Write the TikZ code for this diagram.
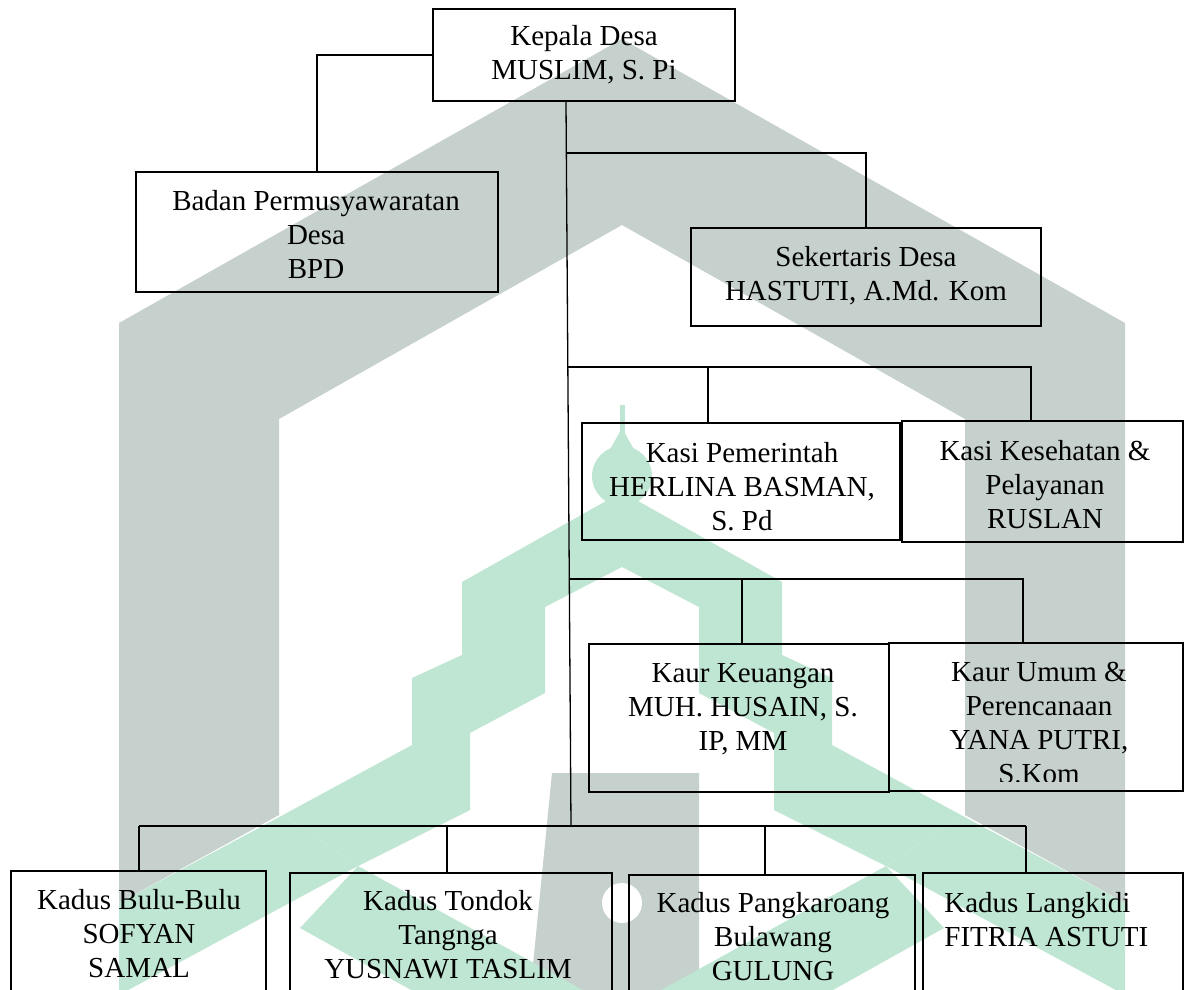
\documentclass[tikz,border=0pt]{standalone}
\usepackage{fontspec}
\setmainfont{Liberation Serif}
\definecolor{wmgrey}{HTML}{C6D0CC}
\definecolor{wmgreen}{HTML}{BFE6D2}
\begin{document}
\begin{tikzpicture}[x=0.5pt, y=-0.5pt,
  box/.style={draw=black, line width=0.9pt, rectangle, inner sep=0pt},
  lbl/.style={align=center, inner sep=0pt, font=\fontsize{14.5}{17}\selectfont},
  conn/.style={draw=black, line width=0.65pt}]
\useasboundingbox (0,0) rectangle (1184,990);
\clip (0,0) rectangle (1184,990);
% ---------- watermark ----------
\fill[wmgrey] (119,903) -- (119,323) -- (622,39) -- (1125,323) -- (1125,903)
  -- (965,815) -- (965,419) -- (622,225) -- (279,419) -- (279,815) -- cycle;
\fill[wmgrey] (552,773) -- (699,773) -- (699,995) -- (530,995) -- cycle;
\fill[white] (622,903) circle (20);
\fill[wmgreen] (622,492) -- (462,582) -- (462,655) -- (412,678) -- (412,745)
  -- (283,815) -- (358,866) -- (470,810) -- (470,733) -- (545,693) -- (545,607)
  -- (622,567) -- (699,607) -- (699,693) -- (774,733) -- (774,810) -- (886,866)
  -- (961,815) -- (832,745) -- (832,678) -- (782,655) -- (782,582) -- cycle;
\fill[wmgreen] (622,476) ellipse (30 and 30);
\fill[wmgreen] (622,428) -- (641,462) -- (603,462) -- cycle;
\fill[wmgreen] (620,405) rectangle (625,440);
\fill[wmgreen] (283,815) -- (358,866) -- (119,995) -- (119,903) -- cycle;
\fill[wmgreen] (358,866) -- (592,995) -- (420,995) -- (300,928) -- cycle;
\fill[wmgreen] (961,815) -- (886,866) -- (1125,995) -- (1125,903) -- cycle;
\fill[wmgreen] (886,866) -- (652,995) -- (824,995) -- (944,928) -- cycle;
% ---------- boxes ----------
\node[box, minimum width=151pt, minimum height=46pt] (kepala) at (584,55) {};
\node[box, minimum width=181pt, minimum height=60pt] (bpd) at (317,232) {};
\node[box, minimum width=175pt, minimum height=49pt] (sek) at (866,277) {};
\node[box, minimum width=159pt, minimum height=58.5pt] (kasip) at (741,481.5) {};
\node[box, minimum width=140.5pt, minimum height=60.5pt] (kasik) at (1042.5,481.5) {};
\node[box, minimum width=150pt, minimum height=74pt] (kaurk) at (739,718) {};
\node[box, minimum width=147pt, minimum height=74pt] (kauru) at (1036,717) {};
\node[box, minimum width=127.5pt, minimum height=69.5pt] (kd1) at (138.5,940.5) {};
\node[box, minimum width=161pt, minimum height=68.5pt] (kd2) at (451,941.5) {};
\node[box, minimum width=143pt, minimum height=67.5pt] (kd3) at (772,942.5) {};
\node[box, minimum width=130pt, minimum height=68.5pt] (kd4) at (1053,941.5) {};
% ---------- texts ----------
\node[lbl] (t-kepala) at (584,55) {Kepala Desa\\MUSLIM, S. Pi};
\node[lbl] (t-bpd) at (316,234) {Badan Permusyawaratan\\Desa\\BPD};
\node[lbl] (t-sek) at (866,276) {Sekertaris Desa\\HASTUTI, A.Md. Kom};
\node[lbl] (t-kasip) at (742,487) {Kasi Pemerintah\\HERLINA BASMAN,\\S. Pd};
\node[lbl] (t-kasik) at (1045,485) {Kasi Kesehatan \&\\Pelayanan\\RUSLAN};
\node[lbl] (t-kaurk) at (743,709) {Kaur Keuangan\\MUH. HUSAIN, S.\\IP, MM};
\begin{scope}
\clip (889,643) rectangle (1183,781);
\node[lbl] (t-kauru) at (1039,723) {Kaur Umum \&\\Perencanaan\\YANA PUTRI,\\S.Kom};
\end{scope}
\node[lbl] (t-kd1) at (139,934) {Kadus Bulu-Bulu\\SOFYAN\\SAMAL};
\node[lbl] (t-kd2) at (448,935) {Kadus Tondok\\Tangnga\\YUSNAWI TASLIM};
\node[lbl] (t-kd3) at (773,937) {Kadus Pangkaroang\\Bulawang\\GULUNG};
\node[lbl, align=left, anchor=west] (t-kd4) at (944,920) {Kadus Langkidi\\FITRIA ASTUTI};
% ---------- connectors ----------
\coordinate (j1) at (566,153);
\coordinate (j2) at (567,367);
\coordinate (j3) at (569,579);
\coordinate (j4) at (571,826);
\coordinate (d2a) at (708,367);
\coordinate (d2b) at (1031,367);
\coordinate (d3a) at (742,579);
\coordinate (d3b) at (1023,579);
\coordinate (d4a) at (139,826);
\coordinate (d4b) at (447,826);
\coordinate (d4c) at (765,826);
\coordinate (d4d) at (1026,826);
\draw[conn] (kepala.west) -| (bpd.north);
\draw[conn] (kepala.south -| j1) -- (j4);
\draw[conn] (j1) -| (sek.north);
\draw[conn] (j2) -- (d2b) -- (d2b |- kasik.north);
\draw[conn] (d2a) -- (d2a |- kasip.north);
\draw[conn] (j3) -- (d3b) -- (d3b |- kauru.north);
\draw[conn] (d3a) -- (d3a |- kaurk.north);
\draw[conn] (d4a) -- (d4d);
\draw[conn] (d4a) -- (d4a |- kd1.north);
\draw[conn] (d4b) -- (d4b |- kd2.north);
\draw[conn] (d4c) -- (d4c |- kd3.north);
\draw[conn] (d4d) -- (d4d |- kd4.north);
\end{tikzpicture}
\end{document}
